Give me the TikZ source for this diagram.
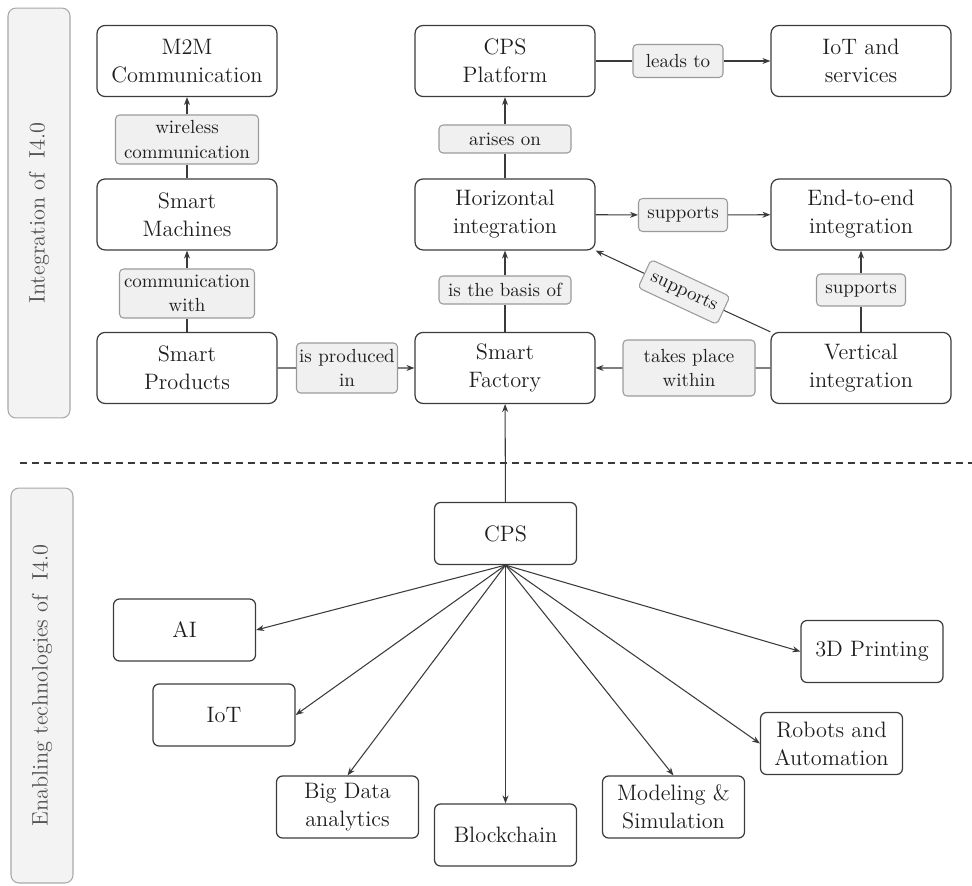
\documentclass[tikz,border=0pt]{standalone}
\usepackage{fontspec}
\usetikzlibrary{arrows.meta}

\definecolor{boxline}{HTML}{3C3C3C}
\definecolor{txt}{HTML}{1E1E1E}
\definecolor{tagline}{HTML}{9A9A9A}
\definecolor{tagfill}{HTML}{F0F0F0}
\definecolor{sideline}{HTML}{A8A8A8}
\definecolor{sidefill}{HTML}{F3F3F3}
\definecolor{sidetext}{HTML}{505050}
\definecolor{arrowc}{HTML}{3A3A3A}

\newcommand{\boxfont}{\rmfamily\fontsize{12.7}{16}\selectfont}
\newcommand{\lblfont}{\rmfamily\fontsize{10.8}{14}\selectfont}

\begin{document}
\begin{tikzpicture}[x=0.02cm, y=-0.02cm, node distance=3.07cm]
  % Define styles
  \tikzstyle{block} = [rectangle, rounded corners=0.16cm, minimum width=3.6cm, minimum height=1.42cm,
                       align=center, draw=boxline, line width=0.7pt, font=\boxfont, text=txt]
  \tikzstyle{tech} = [block, rounded corners=0.12cm, minimum width=2.84cm, minimum height=1.24cm]
  \tikzstyle{tag} = [rectangle, rounded corners=0.08cm, draw=tagline, fill=tagfill, line width=0.6pt,
                     align=center, inner sep=0pt, font=\lblfont, text=txt]
  \tikzstyle{side} = [rectangle, rounded corners=0.16cm, draw=sideline, fill=sidefill, line width=0.6pt,
                      rotate=90, minimum height=1.24cm, font=\boxfont, text=sidetext]
  \tikzstyle{link} = [line width=0.6pt, draw=arrowc]
  \tikzstyle{arrow} = [link, -{Stealth[length=1.6mm,width=1.2mm]}]

  \useasboundingbox (0,0) rectangle (972,885);

  % Side panels
  \node (topside) [side, minimum width=8.2cm] at (39,213) {Integration of~ I4.0};
  \node (botside) [side, minimum width=7.9cm] at (42,685.5) {Enabling technologies of~ I4.0};

  % Nodes (integration)
  \node (m2m) [block] at (187,61) {M2M\\Communication};
  \node (machines) [block, below of=m2m] {Smart\\Machines};
  \node (products) [block, below of=machines] {Smart\\Products};
  \node (platform) [block] at (505,61) {CPS\\Platform};
  \node (horiz) [block, below of=platform] {Horizontal\\integration};
  \node (factory) [block, below of=horiz] {Smart\\Factory};
  \node (services) [block] at (861,61) {IoT and\\services};
  \node (e2e) [block, below of=services] {End-to-end\\integration};
  \node (vert) [block, below of=e2e] {Vertical\\integration};

  % Labels
  \node (lwire) [tag, minimum width=2.86cm, minimum height=0.98cm] at (187,139.5) {wireless\\communication};
  \node (lcomm) [tag, minimum width=2.7cm, minimum height=0.98cm] at (187,293.5) {communication\\with};
  \node (lprod) [tag, minimum width=2.02cm, minimum height=1cm] at (347,368) {is produced\\in};
  \node (lleads) [tag, minimum width=1.8cm, minimum height=0.66cm] at (678,61) {leads to};
  \node (larise) [tag, minimum width=2.64cm, minimum height=0.56cm] at (505,139) {arises on};
  \node (lsuph) [tag, minimum width=1.78cm, minimum height=0.66cm] at (683,215) {supports};
  \node (lbasis) [tag, minimum width=2.64cm, minimum height=0.56cm] at (505,290) {is the basis of};
  \node (lsupv) [tag, minimum width=1.78cm, minimum height=0.64cm] at (861,290) {supports};
  \node (lwithin) [tag, minimum width=2.64cm, minimum height=1.12cm] at (689,368) {takes place\\within};
  \node (ldiag) [tag, minimum width=1.74cm, minimum height=0.62cm, rotate=-25] at (684,292) {supports};

  % Arrows (integration)
  \draw [link] (machines) -- (lwire);
  \draw [arrow] (lwire) -- (m2m);
  \draw [link] (products) -- (lcomm);
  \draw [arrow] (lcomm) -- (machines);
  \draw [link] (products) -- (lprod);
  \draw [arrow] (lprod) -- (factory);
  \draw [link] (factory) -- (lbasis);
  \draw [arrow] (lbasis) -- (horiz);
  \draw [link] (horiz) -- (larise);
  \draw [arrow] (larise) -- (platform);
  \draw [link] (platform) -- (lleads);
  \draw [arrow] (lleads) -- (services);
  \draw [arrow] (horiz) -- (lsuph);
  \draw [arrow] (lsuph) -- (e2e);
  \draw [link] (vert) -- (lsupv);
  \draw [arrow] (lsupv) -- (e2e);
  \draw [link] (vert) -- (lwithin);
  \draw [arrow] (lwithin) -- (factory);
  \draw [link] (vert.north west) -- (ldiag);
  \draw [arrow] (ldiag) -- (horiz.south east);

  % Separator
  \draw [draw=arrowc, line width=1.1pt, dash pattern=on 0.14cm off 0.1cm] (20,463) -- (972,463);

  % Nodes (technologies)
  \node (cps) [tech] at (505.5,533.5) {CPS};
  \node (ai) [tech] at (184.5,630) {AI};
  \node (iot) [tech] at (224,715) {IoT};
  \node (bigdata) [tech] at (347.5,807) {Big Data\\analytics};
  \node (chain) [tech] at (505.5,835) {Blockchain};
  \node (model) [tech] at (673.5,807) {Modeling \&\\Simulation};
  \node (robots) [tech] at (831.5,743.5) {Robots and\\Automation};
  \node (print) [tech] at (872,651.5) {3D Printing};

  % Arrows (technologies)
  \draw [arrow] (cps) -- (factory);
  \foreach \t/\a in {ai/east, iot/east, bigdata/north, chain/north, model/north, robots/west, print/west}
    \draw [arrow] (cps.south) -- (\t.\a);
\end{tikzpicture}
\end{document}
